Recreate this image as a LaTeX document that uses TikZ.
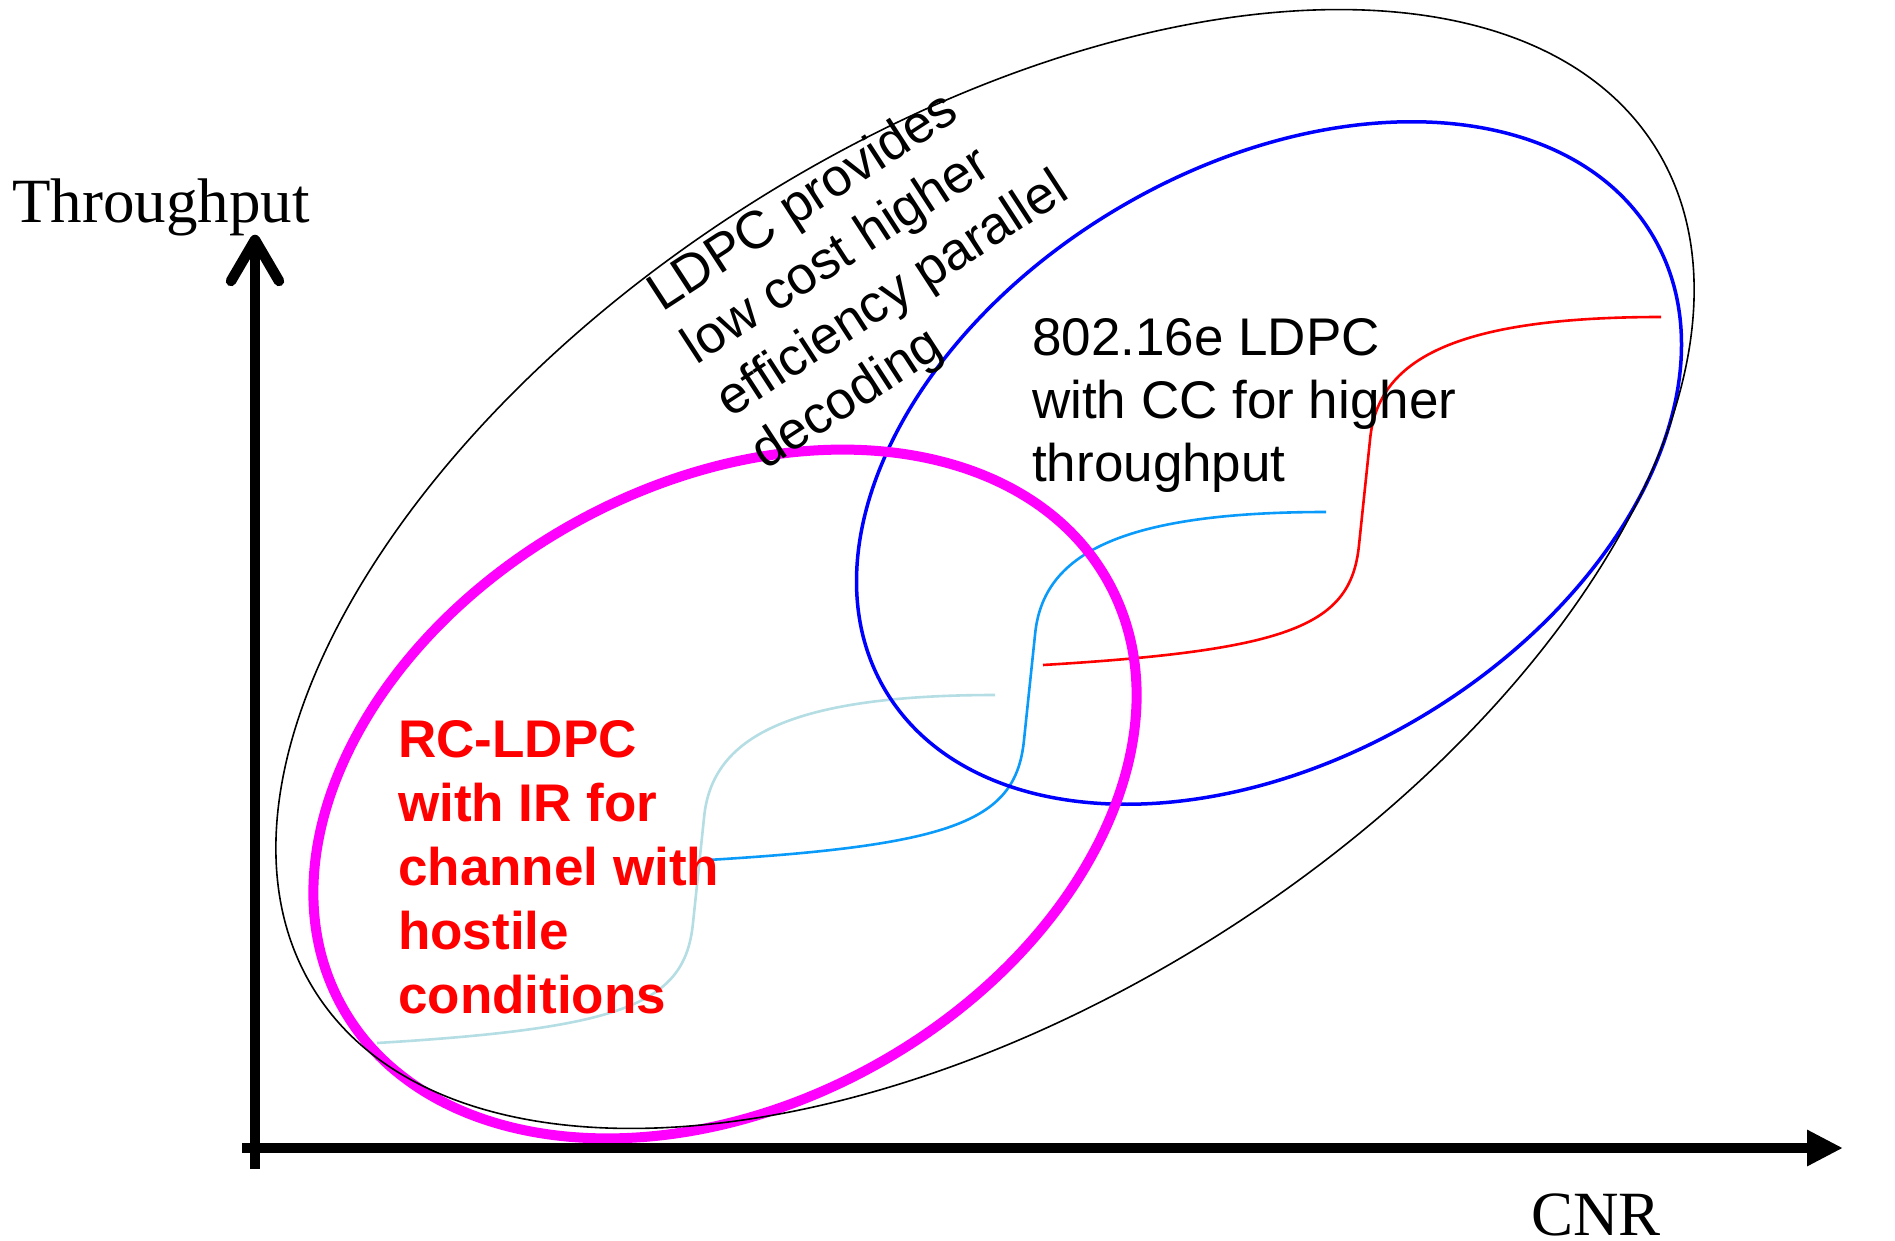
\documentclass[tikz,border=0pt]{standalone}
\usepackage{fontspec}
\setmainfont{Liberation Serif}
\newfontfamily\arialfont{Liberation Sans}
\usetikzlibrary{arrows.meta}
\definecolor{curvered}{RGB}{255,0,0}
\definecolor{curveblue}{RGB}{10,155,250}
\definecolor{curvelight}{RGB}{180,222,228}
\definecolor{ellblue}{RGB}{0,0,255}
\definecolor{ellmag}{RGB}{255,0,255}
\newcommand\scurvepath{(0,0) .. controls (250,-15) and (308,-40) .. (316,-120) -- (327,-225) .. controls (334,-300) and (400,-348) .. (618,-348)}
\begin{document}
\begin{tikzpicture}[x=1pt,y=-1pt,
  axisline/.style={line width=10.5pt},
  sline/.style={line width=2.6pt},
  sanstext/.style={font=\arialfont\fontsize{53}{63}\selectfont, inner sep=0pt, align=left},
  sansbold/.style={font=\arialfont\bfseries\fontsize{53}{64}\selectfont, inner sep=0pt, align=left, text=curvered},
  seriftext/.style={font=\fontsize{63}{70}\selectfont, inner sep=0pt}]
\useasboundingbox (0,0) rectangle (1895,1241);
\fill[white] (0,0) rectangle (1895,1241);

% step curves
\draw[sline, curvelight, shift={(377,1043)}] \scurvepath;
\draw[sline, curveblue, shift={(708,860)}] \scurvepath;
\draw[sline, curvered, shift={(1043,665)}] \scurvepath;

% ellipses
\draw[ellblue, line width=3.5pt, rotate around={30.6:(1269,463)}] (1269,463) ellipse [x radius=446, y radius=296];
\draw[ellmag, line width=10pt, rotate around={29:(725,794)}] (725,794) ellipse [x radius=438, y radius=310];
\draw[black, line width=1.6pt, rotate around={32.2:(985,569)}] (985,569) ellipse [x radius=792, y radius=434];

% axes
\coordinate (origin) at (255,1148);
\coordinate (xstart) at (242,1148);
\coordinate (xtip) at (1843,1148);
\coordinate (ybottom) at (255,1169);
\coordinate (ytop) at (255,242);
\draw[axisline, -{Triangle[length=36pt,width=34pt]}] (xstart) -- (xtip);
\draw[axisline] (ybottom) -- (ytop);
\draw[axisline, line cap=round, line join=round] (231,281) -- (255,240) -- (279,281);

% labels (anchor = baseline of the last line)
\node[seriftext, anchor=base west] (ylabel) at (12,223) {Throughput};
\node[seriftext, anchor=base west] (xlabel) at (1531,1235) {CNR};
\node[sanstext, anchor=base west, rotate=33] (ldpc) at (765,471) {LDPC provides\\low cost higher\\efficiency parallel\\decoding};
\node[sanstext, anchor=base west] (wimax) at (1032,481) {802.16e LDPC\\with CC for higher\\throughput};
\node[sansbold, anchor=base west] (rcldpc) at (398,1013) {RC-LDPC\\with IR for\\channel with\\hostile\\conditions};
\end{tikzpicture}
\end{document}
